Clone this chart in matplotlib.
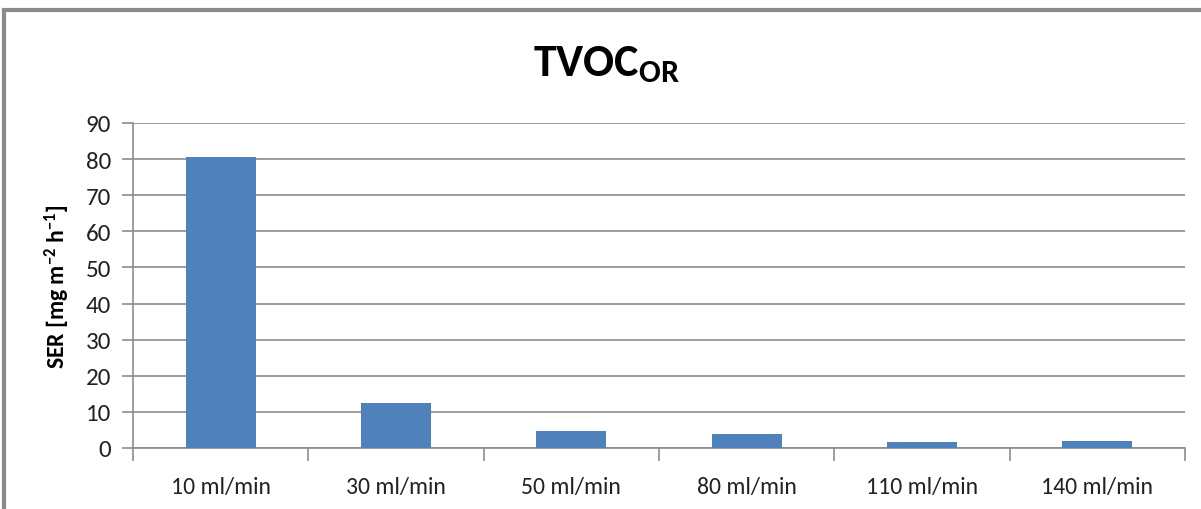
import matplotlib
matplotlib.use("Agg")
import matplotlib.pyplot as plt
from matplotlib.patches import Rectangle
import numpy as np

categories = ["10 ml/min", "30 ml/min", "50 ml/min", "80 ml/min", "110 ml/min", "140 ml/min"]
values = [80.7, 12.6, 4.8, 3.8, 1.7, 1.9]
yticks = [0, 10, 20, 30, 40, 50, 60, 70, 80, 90]

plt.rcParams['font.family'] = ['Carlito', 'Open Sans', 'DejaVu Sans']
plt.rcParams['mathtext.fontset'] = 'custom'
plt.rcParams['mathtext.rm'] = 'Carlito'
plt.rcParams['mathtext.bf'] = 'Carlito:bold'
plt.rcParams['mathtext.it'] = 'Carlito:italic'

fig = plt.figure(figsize=(12.01, 5.10), dpi=100)
W, H = 1201, 510
ax = fig.add_axes([133 / W, 1 - 449 / H, (1185 - 133) / W, (449 - 124) / H])

x = np.arange(len(categories))
ax.bar(x, values, width=0.4, color="#4F81BD", zorder=3)

ax.set_xlim(-0.5, len(categories) - 0.5)
ax.set_ylim(0, 90)
ax.set_yticks(yticks)
ax.yaxis.grid(True, color="#8C8C8C", linewidth=1.2, zorder=0)

ax.set_xticks(np.arange(len(categories) + 1) - 0.5)
ax.set_xticklabels([])
ax.set_xticks(x, minor=True)
ax.set_xticklabels(categories, minor=True)
ax.tick_params(axis="x", which="major", length=9, width=1.2, color="#8C8C8C", direction="out")
ax.tick_params(axis="x", which="minor", length=0, pad=20, labelsize=17, labelcolor="#222222")
ax.tick_params(axis="y", length=8, width=1.2, color="#8C8C8C", labelsize=18, pad=8, labelcolor="#222222")

for s in ["top", "right"]:
    ax.spines[s].set_visible(False)
for s in ["left", "bottom"]:
    ax.spines[s].set_color("#8C8C8C")
    ax.spines[s].set_linewidth(1.2)

ax.set_ylabel(r"SER [mg m$^{\mathbf{-2}}$ h$^{\mathbf{-1}}$]", fontsize=17, fontweight="bold", labelpad=10)

fig.text(607 / W, 1 - 65 / H, r"TVOC$_{\mathbf{OR}}$", ha="center", va="center",
         fontsize=33, fontweight="bold")

fig.patches.append(Rectangle((4 / W, -0.1), 1.2, 1 - 11 / H + 0.1, transform=fig.transFigure,
                             fill=False, edgecolor="#8A8A8A", linewidth=3))

fig.savefig("out.png", dpi=100, facecolor="white")
